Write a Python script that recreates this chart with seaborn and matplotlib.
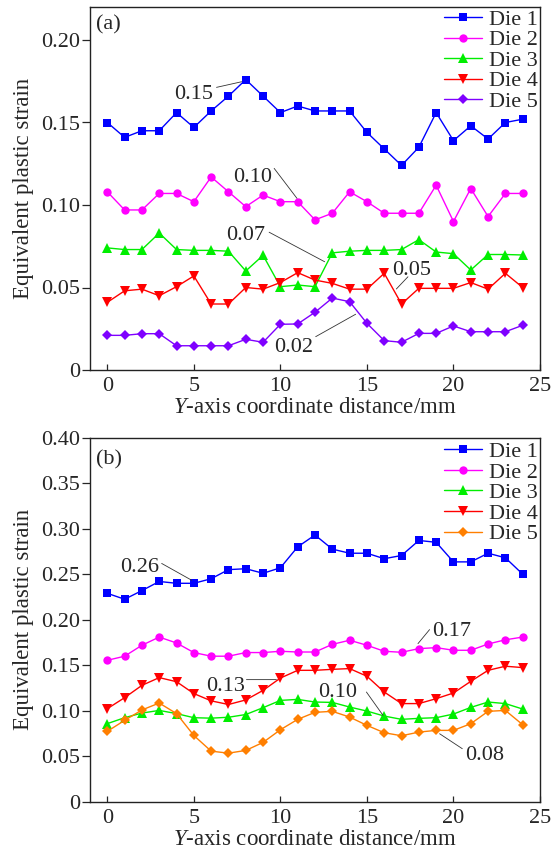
import numpy as np
import pandas as pd
import matplotlib
matplotlib.use("Agg")
import matplotlib.pyplot as plt
from matplotlib.ticker import FuncFormatter, MultipleLocator
import seaborn as sns

# ---------------- data ----------------
x_pos = list(range(25))
dies = ["Die 1", "Die 2", "Die 3", "Die 4", "Die 5"]

a_die1 = [0.150, 0.141, 0.145, 0.145, 0.156, 0.147, 0.157, 0.166, 0.176, 0.166, 0.156, 0.160, 0.157,
          0.157, 0.157, 0.144, 0.134, 0.124, 0.135, 0.156, 0.139, 0.148, 0.140, 0.150, 0.152]
a_die2 = [0.108, 0.097, 0.097, 0.107, 0.107, 0.102, 0.117, 0.108, 0.099, 0.106, 0.102, 0.102, 0.091,
          0.095, 0.108, 0.102, 0.095, 0.095, 0.095, 0.112, 0.090, 0.110, 0.093, 0.107, 0.107]
a_die3 = [0.074, 0.073, 0.073, 0.083, 0.073, 0.0725, 0.0725, 0.072, 0.060, 0.0695, 0.0505, 0.0515, 0.0505,
          0.071, 0.072, 0.0725, 0.0725, 0.073, 0.079, 0.0715, 0.0705, 0.0606, 0.070, 0.070, 0.0697]
a_die4 = [0.041, 0.048, 0.049, 0.045, 0.0505, 0.057, 0.040, 0.040, 0.050, 0.049, 0.053, 0.059, 0.0545,
          0.0525, 0.049, 0.049, 0.0586, 0.040, 0.0495, 0.0495, 0.0495, 0.053, 0.049, 0.0586, 0.050]
a_die5 = [0.021, 0.021, 0.022, 0.022, 0.0147, 0.0147, 0.0147, 0.0147, 0.0186, 0.0168, 0.0277, 0.0279, 0.035,
          0.0436, 0.0414, 0.0283, 0.0178, 0.0168, 0.0222, 0.0222, 0.0267, 0.0232, 0.0232, 0.0232, 0.0271]

b_die1 = [0.229, 0.2225, 0.232, 0.242, 0.240, 0.240, 0.245, 0.255, 0.256, 0.251, 0.257, 0.280, 0.293,
          0.2775, 0.273, 0.273, 0.267, 0.2705, 0.287, 0.285, 0.2635, 0.2635, 0.273, 0.268, 0.250]
b_die2 = [0.1555, 0.160, 0.172, 0.181, 0.1745, 0.164, 0.160, 0.160, 0.164, 0.164, 0.1654, 0.1646, 0.1646,
          0.173, 0.1775, 0.172, 0.1654, 0.1643, 0.1683, 0.1694, 0.1665, 0.1665, 0.1734, 0.178, 0.181]
b_die3 = [0.086, 0.0925, 0.0976, 0.1005, 0.097, 0.0925, 0.092, 0.093, 0.096, 0.1035, 0.1115, 0.1126, 0.1097,
          0.1093, 0.1042, 0.0998, 0.0943, 0.0907, 0.0918, 0.0925, 0.0965, 0.1038, 0.1097, 0.108, 0.102]
b_die4 = [0.1024, 0.1145, 0.128, 0.1365, 0.132, 0.119, 0.111, 0.107, 0.112, 0.1225, 0.136, 0.1445, 0.1445,
          0.1456, 0.1464, 0.138, 0.1207, 0.108, 0.108, 0.1134, 0.1196, 0.1324, 0.1445, 0.149, 0.1475]
b_die5 = [0.0775, 0.0896, 0.101, 0.1086, 0.097, 0.073, 0.0558, 0.0536, 0.0566, 0.0654, 0.0793, 0.0907, 0.0984,
          0.0995, 0.0932, 0.0841, 0.076, 0.0727, 0.0767, 0.0786, 0.0786, 0.0859, 0.0995, 0.1005, 0.0848]

# annotations: label, text centre, leader start, leader end
a_ann_labels = ["0.15", "0.10", "0.07", "0.05", "0.02"]
a_ann_text = [(4.96, 0.1687), (8.38, 0.118), (8.0, 0.0832), (17.61, 0.0616), (10.77, 0.0152)]
a_ann_from = [(6.31, 0.1713), (9.64, 0.1222), (9.35, 0.0835), (17.37, 0.0565), (12.04, 0.0202)]
a_ann_to = [(7.76, 0.1747), (10.96, 0.104), (12.56, 0.0656), (16.70, 0.0491), (14.35, 0.0338)]

b_ann_labels = ["0.26", "0.13", "0.10", "0.17", "0.08"]
b_ann_text = [(1.89, 0.2599), (6.84, 0.1299), (13.33, 0.1225), (19.90, 0.1903), (21.82, 0.0536)]
b_ann_from = [(3.14, 0.2618), (8.04, 0.1343), (14.97, 0.1207), (18.62, 0.1892), (20.51, 0.0585)]
b_ann_to = [(4.87, 0.2434), (9.77, 0.1343), (15.93, 0.0951), (17.95, 0.1738), (19.20, 0.0749)]

# ---------------- style ----------------
sns.set_style("ticks")
plt.rcParams["font.family"] = ["Liberation Serif", "DejaVu Serif"]
plt.rcParams["mathtext.fontset"] = "custom"
plt.rcParams["mathtext.rm"] = "Liberation Serif"
plt.rcParams["mathtext.it"] = "Liberation Serif:italic"
plt.rcParams["axes.edgecolor"] = "#222222"

FS = 16
markers = {"Die 1": "s", "Die 2": "o", "Die 3": "^", "Die 4": "v", "Die 5": "D"}
pal_a = {"Die 1": "#0000FF", "Die 2": "#FF00FF", "Die 3": "#00EE00", "Die 4": "#FF0000", "Die 5": "#7F00FF"}
pal_b = {"Die 1": "#0000FF", "Die 2": "#FF00FF", "Die 3": "#00EE00", "Die 4": "#FF0000", "Die 5": "#FF7F00"}
msizes = {"s": 5.2, "o": 6.0, "^": 7.0, "v": 7.0, "D": 5.0}


def make_df(series):
    frames = []
    for name, vals in zip(dies, series):
        frames.append(pd.DataFrame({"x": x_pos, "v": vals, "die": name}))
    return pd.concat(frames, ignore_index=True)


fig = plt.figure(figsize=(5.52, 8.57), dpi=100)
W, H = 552.0, 857.0
ax_a = fig.add_axes([90 / W, 1 - 370 / H, 450 / W, 363 / H])
ax_b = fig.add_axes([90 / W, 1 - 802 / H, 450 / W, 364.5 / H])


def draw(ax, series, pal, ymax, ystep, tag, labels, tpos, fpos, epos, tagy, legy):
    df = make_df(series)
    sns.lineplot(data=df, x="x", y="v", hue="die", style="die", markers=markers,
                 dashes=False, palette=pal, ax=ax, legend=False, linewidth=1.0,
                 markeredgewidth=0, estimator=None, sort=False)
    for ln in ax.lines[:5]:
        ln.set_markersize(msizes[ln.get_marker()])
    ax.set_xlim(-1, 25)
    ax.set_ylim(0, ymax)
    ax.xaxis.set_major_locator(MultipleLocator(5))
    ax.yaxis.set_major_locator(MultipleLocator(ystep))
    ax.yaxis.set_major_formatter(FuncFormatter(lambda v, p: "0" if abs(v) < 1e-9 else f"{v:.2f}"))
    ax.tick_params(axis="x", direction="in", length=4.5, width=0.9, labelsize=FS, pad=5)
    ax.tick_params(axis="y", direction="out", length=5.5, width=0.9, labelsize=FS, pad=1.5)
    for s in ax.spines.values():
        s.set_visible(True)
        s.set_linewidth(1.0)
    ax.set_xlabel(r"$Y$-axis coordinate distance/mm", fontsize=16.5, labelpad=1)
    ax.set_ylabel("Equivalent plastic strain", fontsize=16.5, labelpad=5)
    ax.text(0.013, tagy, tag, transform=ax.transAxes, fontsize=FS, ha="left", va="top")
    ax.legend(ax.lines[:5], dies, loc="upper right", bbox_to_anchor=(1.0, legy),
              frameon=False, fontsize=FS, handlelength=1.7, handletextpad=0.3,
              labelspacing=0.0, borderaxespad=0.1, borderpad=0.0)
    for lab, tp, fp, ep in zip(labels, tpos, fpos, epos):
        ax.text(tp[0], tp[1], lab, fontsize=FS, ha="center", va="center_baseline")
        ax.annotate("", xy=ep, xytext=fp,
                    arrowprops=dict(arrowstyle="-", lw=0.6, color="#333333", shrinkA=0, shrinkB=0))


draw(ax_a, [a_die1, a_die2, a_die3, a_die4, a_die5], pal_a, 0.22, 0.05, "(a)",
     a_ann_labels, a_ann_text, a_ann_from, a_ann_to, 0.978, 1.0)
draw(ax_b, [b_die1, b_die2, b_die3, b_die4, b_die5], pal_b, 0.40, 0.05, "(b)",
     b_ann_labels, b_ann_text, b_ann_from, b_ann_to, 0.966, 0.995)

fig.savefig("out.png", dpi=100)
